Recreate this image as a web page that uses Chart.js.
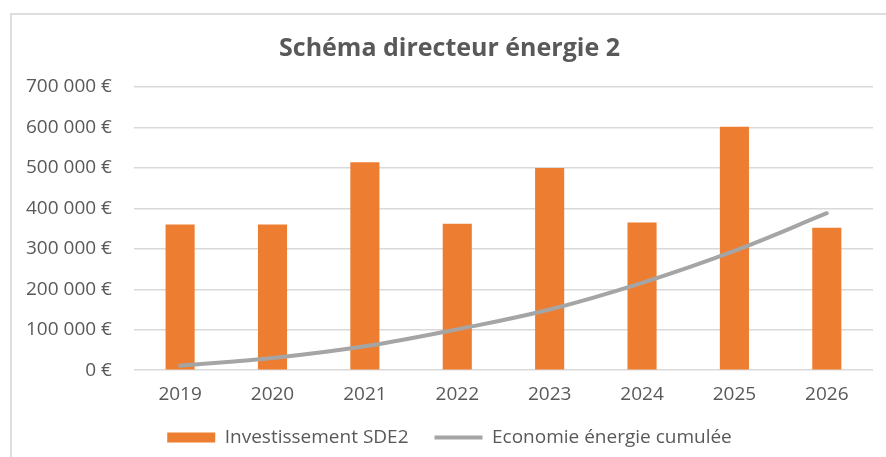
<!DOCTYPE html>
<html lang="fr">
<head>
    <meta charset="UTF-8">
    <title>Schéma directeur énergie 2</title>
    <script src="https://cdn.jsdelivr.net/npm/chart.js"></script>
    <style>
        body { margin: 0; overflow: hidden; background: #fff; }
        .cadre {
            position: absolute; left: 10px; top: 13px;
            width: 900px; height: 470px;
            border-top: 2px solid #dedede; border-left: 2px solid #dedede;
        }
        canvas { display: block; }
    </style>
</head>
<body>
    <div class="cadre">
        <canvas id="graphique" width="888" height="444"></canvas>
    </div>

    <script>
        // Données
        const annees = ['2019', '2020', '2021', '2022', '2023', '2024', '2025', '2026'];
        const investissement = [360000, 360000, 514000, 362000, 500000, 365000, 602000, 352000];
        const economieCumulee = [11000, 30000, 59000, 101000, 150000, 216000, 295000, 388000];
        const ticksY = [0, 100000, 200000, 300000, 400000, 500000, 600000, 700000];

        const gris = '#595959';
        const police = 'Open Sans';

        // format "600 000 €"
        function euros(v) {
            return String(v).replace(/\B(?=(\d{3})+(?!\d))/g, ' ') + ' €';
        }

        const ctx = document.getElementById('graphique').getContext('2d');
        new Chart(ctx, {
            type: 'bar',
            data: {
                labels: annees,
                datasets: [{
                    label: 'Investissement SDE2',
                    data: investissement,
                    backgroundColor: '#ED7D31',
                    borderWidth: 0,
                    barPercentage: 0.315,
                    categoryPercentage: 1,
                    pointStyle: 'rect',
                    order: 2
                }, {
                    type: 'line',
                    label: 'Economie énergie cumulée',
                    data: economieCumulee,
                    borderColor: '#A5A5A5',
                    backgroundColor: '#A5A5A5',
                    borderWidth: 4,
                    borderCapStyle: 'round',
                    tension: 0.4,
                    pointRadius: 0,
                    pointBorderWidth: 4,
                    pointStyle: 'line',
                    order: 1
                }]
            },
            options: {
                responsive: false,
                animation: false,
                layout: { padding: { left: 14, right: 27, top: 0, bottom: 2 } },
                scales: {
                    x: {
                        grid: { display: false, drawTicks: false },
                        border: { display: false },
                        ticks: { color: gris, font: { family: police, size: 19 }, padding: 13 },
                        // rapproche la légende des étiquettes (sans les couper)
                        afterFit: axis => { axis.height -= 17; }
                    },
                    y: {
                        min: 0,
                        max: 700000,
                        afterBuildTicks: axis => { axis.ticks = ticksY.map(v => ({ value: v })); },
                        grid: { color: '#d9d9d9', lineWidth: 1.5, drawTicks: false },
                        border: { display: false },
                        ticks: {
                            color: gris,
                            font: { family: police, size: 19 },
                            padding: 22,
                            callback: v => euros(v)
                        },
                        // le padding est compté deux fois à gauche
                        afterFit: axis => { axis.width -= 22; }
                    }
                },
                plugins: {
                    title: {
                        display: true,
                        text: 'Schéma directeur énergie 2',
                        color: gris,
                        font: { family: police, size: 25, weight: 'bold' },
                        padding: { top: 19, bottom: 23 }
                    },
                    legend: {
                        position: 'bottom',
                        labels: {
                            color: gris,
                            font: { family: police, size: 19 },
                            usePointStyle: true,
                            pointStyleWidth: 48,
                            boxHeight: 10,
                            padding: 26,
                            sort: (a, b) => a.datasetIndex - b.datasetIndex
                        }
                    },
                    tooltip: { enabled: false }
                }
            }
        });
    </script>
</body>
</html>
